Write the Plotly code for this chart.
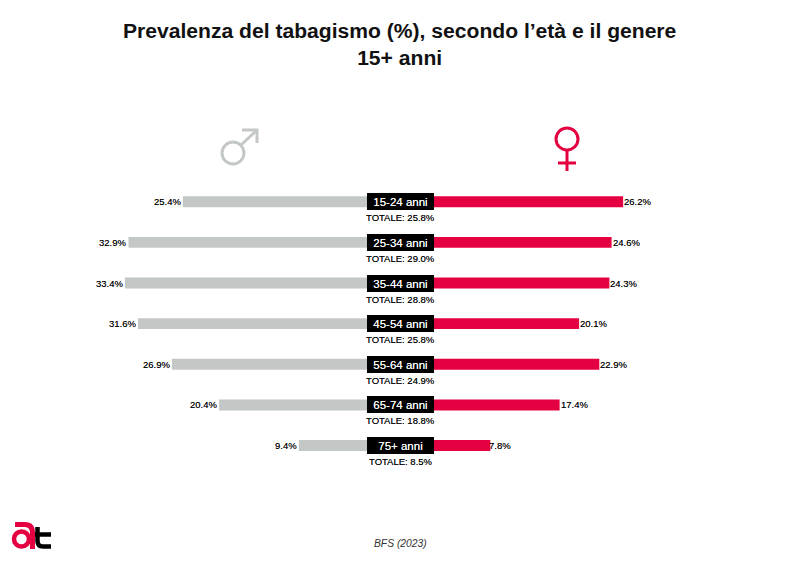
import plotly.graph_objects as go

# Smoking prevalence by age group, BFS 2023
AGE_GROUPS = ["15-24 anni", "25-34 anni", "35-44 anni", "45-54 anni", "55-64 anni", "65-74 anni", "75+ anni"]
MEN = [25.4, 32.9, 33.4, 31.6, 26.9, 20.4, 9.4]
WOMEN = [26.2, 24.6, 24.3, 20.1, 22.9, 17.4, 7.8]
TOTAL = [25.8, 29.0, 28.8, 25.8, 24.9, 18.8, 8.5]

COLOR_MEN = "#c3c8c6"
COLOR_WOMEN = "#e40041"
COLOR_TEXT = "#000000"
FONT = "Liberation Sans"
LABEL_SHADOW = "0 0 0.3px rgba(0,0,0,0.6)"
PILL_SHADOW = "0 0 0.4px rgba(255,255,255,0.8)"

W, H = 800, 566


def px(x):
    return x / W


def py(y):
    return 1 - y / H


rows = list(range(len(AGE_GROUPS)))

fig = go.Figure()

fig.add_trace(
    go.Bar(
        y=rows,
        x=MEN,
        orientation="h",
        xaxis="x",
        yaxis="y",
        marker={"color": COLOR_MEN, "line": {"width": 0}},
        width=0.27,
        showlegend=False,
    )
)
fig.add_trace(
    go.Bar(
        y=rows,
        x=WOMEN,
        orientation="h",
        xaxis="x2",
        yaxis="y",
        marker={"color": COLOR_WOMEN, "line": {"width": 0}},
        width=0.27,
        showlegend=False,
    )
)

annotations = [
    {
        "text": "<b>Prevalenza del tabagismo (%), secondo l’età e il genere</b><br><b>15+ anni</b>",
        "x": px(400), "y": py(44), "xref": "paper", "yref": "paper", "yanchor": "middle",
        "showarrow": False, "align": "center",
        "font": {"family": FONT, "size": 21.1, "color": "#111111"},
    },
    {
        "text": "<i>BFS (2023)</i>",
        "x": px(400.5), "y": py(543), "xref": "paper", "yref": "paper", "yanchor": "middle",
        "showarrow": False,
        "font": {"family": FONT, "size": 10.3, "color": "#333333"},
    },
]
for i, age in enumerate(AGE_GROUPS):
    annotations.append(
        {
            "text": age, "x": px(400.5), "y": i, "xref": "paper", "yref": "y",
            "showarrow": False, "width": 67, "height": 17, "bgcolor": "#000000",
            "borderpad": 0, "borderwidth": 0, "align": "center", "valign": "middle",
            "font": {"family": FONT, "size": 11.5, "color": "#ffffff", "shadow": PILL_SHADOW},
        }
    )
    annotations.append(
        {
            "text": f"TOTALE: {TOTAL[i]:.1f}%", "x": px(400.5), "y": i, "xref": "paper", "yref": "y",
            "yshift": -16, "showarrow": False,
            "font": {"family": FONT, "size": 9.5, "color": COLOR_TEXT, "shadow": LABEL_SHADOW},
        }
    )
    annotations.append(
        {
            "text": f"{MEN[i]:.1f}%", "x": MEN[i], "y": i, "xref": "x", "yref": "y",
            "xanchor": "right", "showarrow": False,
            "font": {"family": FONT, "size": 9.5, "color": COLOR_TEXT, "shadow": LABEL_SHADOW},
        }
    )
    annotations.append(
        {
            "text": f"{WOMEN[i]:.1f}%", "x": WOMEN[i], "y": i, "xref": "x2", "yref": "y",
            # the smallest label runs slightly into its bar in the original
            "xanchor": "left", "xshift": -3 if WOMEN[i] < 10 else -1, "showarrow": False,
            "font": {"family": FONT, "size": 9.5, "color": COLOR_TEXT, "shadow": LABEL_SHADOW},
        }
    )

# Gender icons and logo sit outside the data, placed in paper space
shapes = []


def paper_line(x0, y0, x1, y1, color, width):
    shapes.append(
        {
            "type": "line", "xref": "paper", "yref": "paper",
            "x0": px(x0), "y0": py(y0), "x1": px(x1), "y1": py(y1),
            "line": {"color": color, "width": width},
        }
    )


def paper_circle(cx, cy, r, color, width):
    shapes.append(
        {
            "type": "circle", "xref": "paper", "yref": "paper",
            "x0": px(cx - r), "y0": py(cy - r), "x1": px(cx + r), "y1": py(cy + r),
            "line": {"color": color, "width": width},
        }
    )


def paper_path(points, color, width):
    # points: start, then (ctrl, end) pairs for quadratic segments or single ends for lines
    d = f"M {px(points[0][0])},{py(points[0][1])}"
    for p in points[1:]:
        if len(p) == 4:
            d += f" Q {px(p[0])},{py(p[1])} {px(p[2])},{py(p[3])}"
        else:
            d += f" L {px(p[0])},{py(p[1])}"
    shapes.append(
        {
            "type": "path", "xref": "paper", "yref": "paper", "path": d,
            "line": {"color": color, "width": width},
        }
    )


paper_circle(233, 153, 11, COLOR_MEN, 3)
paper_line(241, 145, 257, 130, COLOR_MEN, 3)
paper_line(242, 130, 258, 130, COLOR_MEN, 3)
paper_line(257, 129, 257, 143, COLOR_MEN, 3)

paper_circle(567, 139, 11, COLOR_WOMEN, 3)
paper_line(567, 151, 567, 171, COLOR_WOMEN, 3)
paper_line(558, 163, 576, 163, COLOR_WOMEN, 3)

# "at" logo
paper_circle(21.5, 539, 7.5, COLOR_WOMEN, 4.5)
paper_path([(15, 524.5), (25, 524.5), (32.5, 524.5, 32.5, 533), (32.5, 549)], COLOR_WOMEN, 5)
paper_path([(37.5, 527), (37.5, 541), (37.5, 546.5, 43, 546.5), (51, 546.5)], "#000000", 4.5)
paper_line(35, 534.5, 51, 534.5, "#000000", 4.5)

fig.update_layout(
    width=W,
    height=H,
    autosize=False,
    margin={"l": 0, "r": 0, "t": 0, "b": 0},
    paper_bgcolor="#ffffff",
    plot_bgcolor="#ffffff",
    showlegend=False,
    font={"family": FONT},
    xaxis={"domain": [0, px(367)], "range": [50.62, 0], "visible": False, "fixedrange": True},
    xaxis2={"domain": [px(434), 1], "range": [0, 50.7], "visible": False, "fixedrange": True},
    yaxis={"domain": [0, 1], "range": [8.965, -4.965], "visible": False, "fixedrange": True},
    annotations=annotations,
    shapes=shapes,
)

fig.write_html(
    "out.html",
    config={"displayModeBar": False},
    post_script="document.body.style.margin = '0';",
)
